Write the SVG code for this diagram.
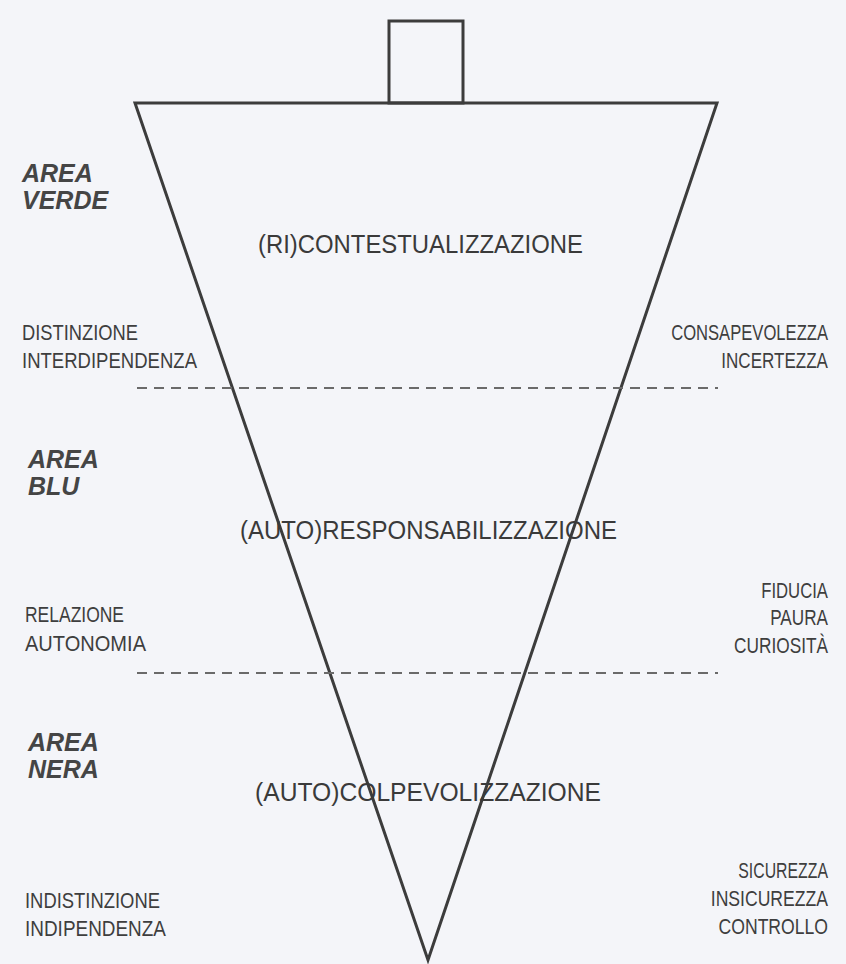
<svg xmlns="http://www.w3.org/2000/svg" width="846" height="964" viewBox="0 0 846 964">
<style>
.lbl{font-family:"Liberation Sans",Arial,sans-serif;font-size:22px;fill:#3e3e3e}
.big{font-family:"Liberation Sans",Arial,sans-serif;font-size:26px;fill:#3a3a3a}
.area{font-family:"Liberation Sans",Arial,sans-serif;font-size:25px;font-weight:bold;font-style:italic;fill:#454545}
.r{text-anchor:end}
.shape{fill:none;stroke:#3c3c3c;stroke-width:3;stroke-linejoin:miter}
.dash{stroke:#6a6a6a;stroke-width:2;stroke-dasharray:10 7}
</style>
<rect width="846" height="964" fill="#f4f5f9"/>
<g id="funnel">
<rect class="shape" x="389" y="21" width="74" height="82"/>
<polygon class="shape" points="135,103 717,103 428,960"/>
</g>
<g id="connectors">
<line class="dash" x1="137" y1="388" x2="718" y2="388"/>
<line class="dash" x1="137" y1="673" x2="718" y2="673"/>
</g>
<g id="area-verde">
<text class="area" x="22" y="182">AREA</text>
<text class="area" x="22" y="209">VERDE</text>
<text class="big" x="258" y="253" textLength="325" lengthAdjust="spacingAndGlyphs">(RI)CONTESTUALIZZAZIONE</text>
<text class="lbl" x="22" y="340" textLength="116" lengthAdjust="spacingAndGlyphs">DISTINZIONE</text>
<text class="lbl" x="22" y="368" textLength="175" lengthAdjust="spacingAndGlyphs">INTERDIPENDENZA</text>
<text class="lbl r" transform="translate(828,340) scale(0.755,1)">CONSAPEVOLEZZA</text>
<text class="lbl r" transform="translate(828,368) scale(0.775,1)">INCERTEZZA</text>
</g>
<g id="area-blu">
<text class="area" x="28" y="468">AREA</text>
<text class="area" x="28" y="495">BLU</text>
<text class="big" x="240" y="539" textLength="377" lengthAdjust="spacingAndGlyphs">(AUTO)RESPONSABILIZZAZIONE</text>
<text class="lbl" x="25" y="622" textLength="99" lengthAdjust="spacingAndGlyphs">RELAZIONE</text>
<text class="lbl" x="25" y="651" textLength="121" lengthAdjust="spacingAndGlyphs">AUTONOMIA</text>
<text class="lbl r" transform="translate(828,598) scale(0.76,1)">FIDUCIA</text>
<text class="lbl r" transform="translate(828,625) scale(0.78,1)">PAURA</text>
<text class="lbl r" transform="translate(828,653) scale(0.785,1)">CURIOSITÀ</text>
</g>
<g id="area-nera">
<text class="area" x="28" y="751">AREA</text>
<text class="area" x="28" y="778">NERA</text>
<text class="big" x="255" y="801" textLength="346" lengthAdjust="spacingAndGlyphs">(AUTO)COLPEVOLIZZAZIONE</text>
<text class="lbl" x="25" y="908" textLength="135" lengthAdjust="spacingAndGlyphs">INDISTINZIONE</text>
<text class="lbl" x="25" y="936" textLength="141" lengthAdjust="spacingAndGlyphs">INDIPENDENZA</text>
<text class="lbl r" transform="translate(828,878) scale(0.72,1)">SICUREZZA</text>
<text class="lbl r" transform="translate(828,906) scale(0.8,1)">INSICUREZZA</text>
<text class="lbl r" transform="translate(828,934) scale(0.8,1)">CONTROLLO</text>
</g>
</svg>
